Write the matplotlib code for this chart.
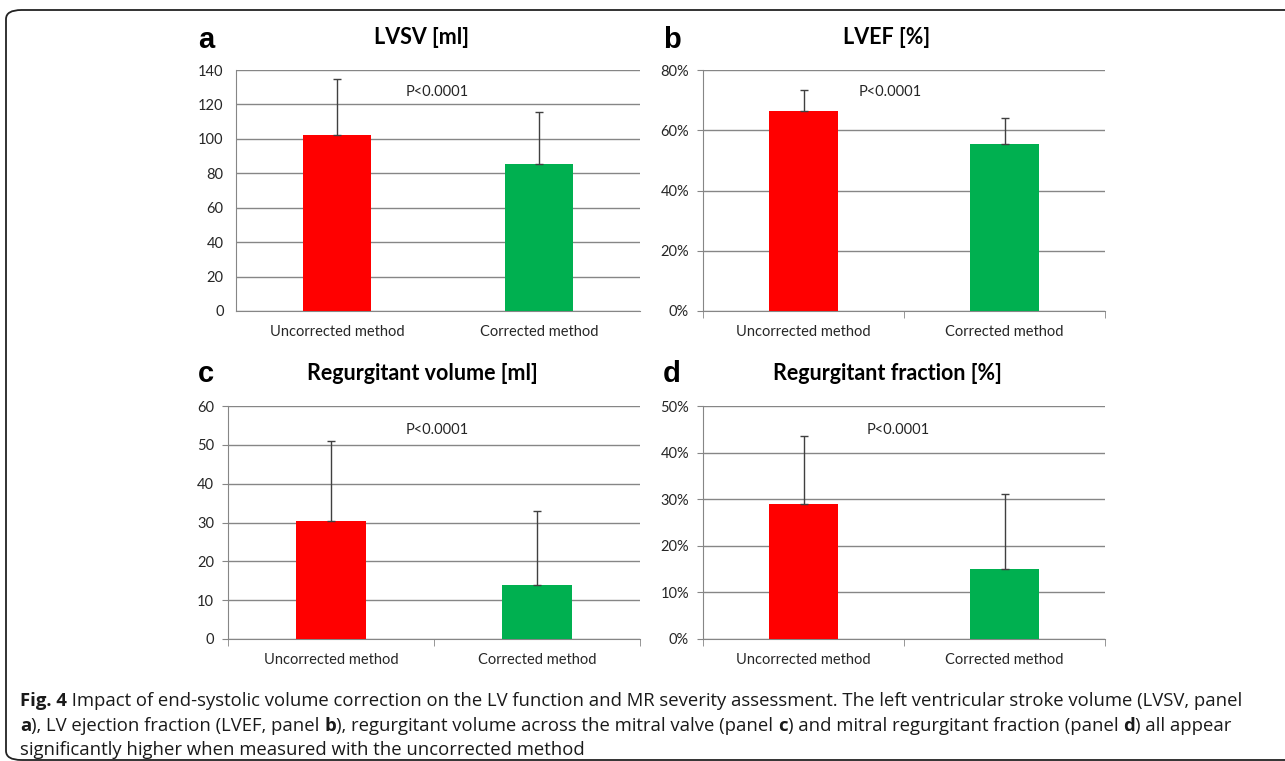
import matplotlib.pyplot as plt
from matplotlib.patches import FancyBboxPatch
from matplotlib import font_manager
from matplotlib.ticker import FuncFormatter

categories = ['Uncorrected method', 'Corrected method']
colors = ['#ff0000', '#00b050']

lvsv = [102, 85.5]
lvsv_sd = [32.5, 30]
lvef = [0.665, 0.555]
lvef_sd = [0.07, 0.085]
regvol = [30.5, 14]
regvol_sd = [20.5, 19]
regfrac = [0.29, 0.15]
regfrac_sd = [0.146, 0.162]

panels = [
    # letter, title, values, sd, ymax, step, percent, p-text position
    ('a', 'LVSV [ml]', lvsv, lvsv_sd, 140, 20, False, (0.495, 127)),
    ('b', 'LVEF [%]', lvef, lvef_sd, 0.8, 0.2, True, (0.43, 0.727)),
    ('c', 'Regurgitant volume [ml]', regvol, regvol_sd, 60, 10, False, (0.515, 53.8)),
    ('d', 'Regurgitant fraction [%]', regfrac, regfrac_sd, 0.5, 0.1, True, (0.47, 0.448)),
]

names = {f.name for f in font_manager.fontManager.ttflist}
chart_font = 'Lato' if 'Lato' in names else 'DejaVu Sans'
cap_font = 'Open Sans' if 'Open Sans' in names else 'DejaVu Sans'

W, H = 1285, 761
fig = plt.figure(figsize=(W / 100, H / 100), dpi=100)

# axes boxes in pixels: left, top, right, bottom
boxes = [(236, 70, 640, 311), (703, 70, 1105, 311),
         (228, 406, 640, 639), (703, 406, 1105, 639)]
title_pos = [(422, 38), (887, 38), (422, 374), (887, 374)]
letter_pos = [(198, 40), (663, 40), (198, 374), (663, 374)]

grey = '#868686'
for (letter, title, vals, sd, ymax, step, pct, ptxt), (l, t, r, b), (tx, ty), (lx, ly) in zip(
        panels, boxes, title_pos, letter_pos):
    ax = fig.add_axes([l / W, 1 - b / H, (r - l) / W, (b - t) / H])
    x = range(len(categories))
    ax.bar(x, vals, width=0.34, color=colors, zorder=3)
    ax.errorbar(x, vals, yerr=[[0] * len(sd), sd], fmt='none', ecolor='#404040',
                elinewidth=1, capsize=3, capthick=1, zorder=4)
    ax.set_xlim(-0.5, 1.5)
    ax.set_ylim(0, ymax)
    yt = [i * step for i in range(int(round(ymax / step)) + 1)]
    ax.set_yticks(yt)
    if pct:
        ax.yaxis.set_major_formatter(FuncFormatter(lambda v, p: f'{v * 100:.0f}%'))
    ax.set_xticks(list(x))
    ax.set_xticklabels(categories)
    ax.set_xticks([-0.5, 0.5, 1.5], minor=True)
    # panel a has no tick marks in the original
    tl = 0 if letter == 'a' else 5
    ax.tick_params(axis='x', which='major', length=0, pad=10)
    ax.tick_params(axis='x', which='minor', length=tl, color=grey, direction='out')
    ax.tick_params(axis='y', length=tl * 0.8, color=grey, pad=6 if tl else 9)
    ax.tick_params(labelsize=10.5, labelcolor='#262626')
    for lab in ax.get_xticklabels() + ax.get_yticklabels():
        lab.set_fontfamily(chart_font)
    ax.grid(axis='y', color=grey, linewidth=1, zorder=0)
    for s in ['top', 'right']:
        ax.spines[s].set_visible(False)
    for s in ['left', 'bottom']:
        ax.spines[s].set_color(grey)
    ax.text(ptxt[0], ptxt[1], 'P<0.0001', ha='center', va='center',
            fontsize=10.5, family=chart_font, color='#262626')
    fig.text(tx / W, 1 - ty / H, title, ha='center', va='center', fontsize=15.5,
             fontweight='bold', family=chart_font)
    fig.text(lx / W, 1 - ly / H, letter, ha='left', va='center', fontsize=21,
             fontweight='bold', family='Liberation Sans')

# caption with bold panel letters
cap = fig.add_axes([0, 0, 1, 1])
cap.set_axis_off()
cap.set_xlim(0, 1)
cap.set_ylim(0, 1)
cap.patch.set_alpha(0)
lines = [
    [('Fig. 4', True), (' Impact of end-systolic volume correction on the LV function and MR severity assessment. '
                        'The left ventricular stroke volume (LVSV, panel', False)],
    [('a', True), ('), LV ejection fraction (LVEF, panel ', False), ('b', True),
     ('), regurgitant volume across the mitral valve (panel ', False), ('c', True),
     (') and mitral regurgitant fraction (panel ', False), ('d', True), (') all appear', False)],
    [('significantly higher when measured with the uncorrected method', False)],
]
line_y = [706, 731, 755]
for pieces, yy in zip(lines, line_y):
    yf = 1 - yy / H
    prev = None
    for txt, bold in pieces:
        kw = dict(fontsize=13.3, family=cap_font, va='baseline', ha='left',
                  fontweight='bold' if bold else 'normal', color='#1a1a1a')
        if prev is None:
            prev = cap.text(20 / W, yf, txt, **kw)
        else:
            prev = cap.annotate(txt, xy=(1, yf), xycoords=(prev, 'axes fraction'), **kw)

frame = FancyBboxPatch((6 / W, 1 / H), 1.2, 1 - 11 / H,
                       boxstyle='round,pad=0,rounding_size=0.012', transform=fig.transFigure,
                       fill=False, edgecolor='#222222', linewidth=1.3)
fig.patches.append(frame)

fig.savefig('out.png', dpi=100)
